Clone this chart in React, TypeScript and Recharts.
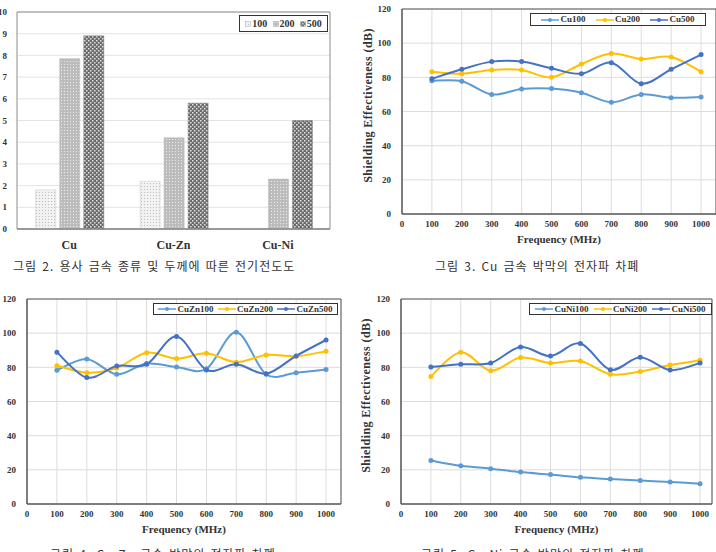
import { BarChart, Bar, LineChart, Line, XAxis, YAxis, CartesianGrid, Legend, ReferenceArea } from "recharts"

// 그림 2: conductivity by metal / thickness
const metals = ["Cu", "Cu-Zn", "Cu-Ni"]
const cond100 = [1.8, 2.2, 0.03]
const cond200 = [7.85, 4.2, 2.3]
const cond500 = [8.9, 5.8, 5.0]
const condTicks = [0, 1, 2, 3, 4, 5, 6, 7, 8, 9, 10]

// 그림 3-5: shielding effectiveness
const freqs = [100, 200, 300, 400, 500, 600, 700, 800, 900, 1000]
const cu100 = [78.0, 77.7, 70.0, 73.2, 73.4, 71.0, 65.4, 70.0, 68.1, 68.5]
const cu200 = [83.3, 82.1, 84.3, 84.3, 80.0, 87.8, 93.9, 90.7, 91.9, 83.3]
const cu500 = [79.2, 84.7, 89.2, 89.2, 85.3, 82.1, 88.6, 76.3, 84.7, 93.3]
const cuzn100 = [78.3, 84.9, 75.9, 82.2, 80.2, 79.1, 100.5, 75.9, 76.9, 78.7]
const cuzn200 = [81.0, 76.9, 79.6, 88.6, 85.1, 88.2, 83.0, 87.2, 86.5, 89.4]
const cuzn500 = [88.8, 74.0, 80.8, 81.8, 98.0, 78.5, 81.8, 76.3, 86.7, 96.0]
const cuni100 = [25.4, 22.4, 20.7, 18.7, 17.2, 15.6, 14.6, 13.7, 12.9, 11.9]
const cuni200 = [74.7, 88.8, 78.0, 85.7, 82.5, 83.7, 75.9, 77.5, 81.4, 84.1]
const cuni500 = [80.2, 81.8, 82.5, 91.9, 86.6, 94.0, 78.6, 85.9, 78.4, 82.5]
const seTicks = [0, 20, 40, 60, 80, 100, 120]
const freqTicks = [0, 100, 200, 300, 400, 500, 600, 700, 800, 900, 1000]

const lineColors = ["#5B9BD5", "#FFC000", "#4472C4"]

const serif = "'Liberation Serif', 'Times New Roman', serif"
const tickStyle = { fontFamily: serif, fontSize: 9, fontWeight: 700, fill: "#333" }
const titleStyle = { fontFamily: serif, fontSize: 11, fontWeight: 700, fill: "#333" }
const captionStyle = {
  position: "absolute" as const,
  fontFamily: "'Noto Sans CJK KR', sans-serif",
  fontSize: 12,
  letterSpacing: 1,
  wordSpacing: 1.5,
  color: "#333",
  whiteSpace: "nowrap" as const,
}

// excel-like smoothed line (catmull-rom)
function excelSmooth(context: any) {
  let pts: number[][] = []
  return {
    areaStart() {},
    areaEnd() {},
    lineStart() {
      pts = []
    },
    point(x: number, y: number) {
      pts.push([x, y])
    },
    lineEnd() {
      if (!pts.length) return
      context.moveTo(pts[0][0], pts[0][1])
      for (let i = 0; i < pts.length - 1; i++) {
        const p0 = pts[Math.max(i - 1, 0)]
        const p1 = pts[i]
        const p2 = pts[i + 1]
        const p3 = pts[Math.min(i + 2, pts.length - 1)]
        context.bezierCurveTo(
          p1[0] + (p2[0] - p0[0]) / 6,
          p1[1] + (p2[1] - p0[1]) / 6,
          p2[0] - (p3[0] - p1[0]) / 6,
          p2[1] - (p3[1] - p1[1]) / 6,
          p2[0],
          p2[1]
        )
      }
    },
  }
}

function LineLegend({ payload }: any) {
  return (
    <div
      style={{
        display: "flex",
        justifyContent: "space-evenly",
        alignItems: "center",
        height: "100%",
        border: "1px solid #333",
        boxSizing: "border-box",
        background: "#fff",
      }}
    >
      {(payload || []).map((p: any) => (
        <div key={p.value} style={{ display: "flex", alignItems: "center" }}>
          <svg width={18} height={6}>
            <line x1={0} y1={3} x2={18} y2={3} stroke={p.color} strokeWidth={1.5} />
            <circle cx={9} cy={3} r={2} fill={p.color} />
          </svg>
          <span style={{ fontFamily: serif, fontSize: 9, fontWeight: 700, color: "#333", marginLeft: 1, lineHeight: 1 }}>
            {p.value}
          </span>
        </div>
      ))}
    </div>
  )
}

function BarLegend({ payload }: any) {
  return (
    <div
      style={{
        display: "flex",
        justifyContent: "space-evenly",
        alignItems: "center",
        height: "100%",
        border: "1px solid #333",
        boxSizing: "border-box",
        background: "#fff",
      }}
    >
      {(payload || []).map((p: any) => (
        <div key={p.value} style={{ display: "flex", alignItems: "center" }}>
          <svg width={6} height={6}>
            <rect x={0.5} y={0.5} width={5} height={5} fill={p.color} stroke="#aaa" strokeWidth={0.5} />
          </svg>
          <span style={{ fontFamily: serif, fontSize: 10, fontWeight: 700, color: "#333", marginLeft: 1, lineHeight: 1 }}>
            {p.value}
          </span>
        </div>
      ))}
    </div>
  )
}

function ConductivityChart() {
  const data = metals.map((m, i) => ({ metal: m, v100: cond100[i], v200: cond200[i], v500: cond500[i] }))
  return (
    <div style={{ position: "absolute", left: 0, top: 0 }}>
      <BarChart
        width={358}
        height={276}
        data={data}
        margin={{ top: 12, right: 28, left: 0, bottom: 27 }}
        barCategoryGap="18%"
        barGap={4}
      >
        <defs>
          <pattern id="p100" width={3} height={3} patternUnits="userSpaceOnUse">
            <rect width={3} height={3} fill="#f2f2f2" />
            <rect width={1} height={1} fill="#bdbdbd" />
          </pattern>
          <pattern id="p200" width={3} height={3} patternUnits="userSpaceOnUse">
            <rect width={3} height={3} fill="#bcbcbc" />
            <rect x={1} y={1} width={1} height={1} fill="#ececec" />
          </pattern>
          <pattern id="p500" width={4} height={4} patternUnits="userSpaceOnUse">
            <rect width={4} height={4} fill="#6c6c6c" />
            <rect width={1.5} height={1.5} fill="#e2e2e2" />
            <rect x={2} y={2} width={1.5} height={1.5} fill="#e2e2e2" />
          </pattern>
        </defs>
        <CartesianGrid vertical={false} stroke="#e4e4e4" />
        <XAxis
          dataKey="metal"
          tickLine={false}
          axisLine={{ stroke: "#8c8c8c", strokeWidth: 1.5 }}
          tick={{ ...tickStyle, fontSize: 12 }}
          tickMargin={5}
          height={20}
        />
        <YAxis
          domain={[0, 10]}
          ticks={condTicks}
          interval={0}
          tickLine={false}
          axisLine={false}
          tick={tickStyle}
          tickMargin={4}
          width={17}
        />
        <ReferenceArea y1={0} y2={10} fill="none" stroke="#8c8c8c" />
        <Legend
          layout="horizontal"
          verticalAlign="middle"
          align="center"
          wrapperStyle={{ left: 239, top: 15, width: 89, height: 17 }}
          content={<BarLegend />}
        />
        <Bar dataKey="v100" name="100" fill="url(#p100)" stroke="#c8c8c8" strokeWidth={0.5} isAnimationActive={false} />
        <Bar dataKey="v200" name="200" fill="url(#p200)" stroke="#b0b0b0" strokeWidth={0.5} isAnimationActive={false} />
        <Bar dataKey="v500" name="500" fill="url(#p500)" stroke="#777" strokeWidth={0.5} isAnimationActive={false} />
      </BarChart>
    </div>
  )
}

function SEChart(props: any) {
  const { left, top, names, series, domainMax, yAxisWidth, marginTop, marginRight, marginBottom, yTitle, legendBox } = props
  const data = freqs.map((f, i) => ({ f, a: series[0][i], b: series[1][i], c: series[2][i] }))
  const keys = ["a", "b", "c"]
  return (
    <div style={{ position: "absolute", left, top }}>
      <LineChart
        width={358}
        height={276}
        data={data}
        margin={{ top: marginTop, right: marginRight, left: 0, bottom: marginBottom }}
      >
        <CartesianGrid stroke="#dcdcdc" />
        <XAxis
          dataKey="f"
          type="number"
          domain={[0, domainMax]}
          ticks={freqTicks}
          interval={0}
          tickLine={false}
          axisLine={{ stroke: "#595959" }}
          tick={tickStyle}
          tickMargin={1}
          height={30}
          label={{ value: "Frequency (MHz)", position: "insideBottom", offset: 1, style: titleStyle }}
        />
        <YAxis
          domain={[0, 120]}
          ticks={seTicks}
          interval={0}
          tickLine={false}
          axisLine={{ stroke: "#595959" }}
          tick={tickStyle}
          tickMargin={5}
          width={yAxisWidth}
          label={
            yTitle
              ? {
                  value: "Shielding Effectiveness (dB)",
                  angle: -90,
                  position: "insideLeft",
                  offset: yTitle,
                  dy: -6,
                  style: { ...titleStyle, fontSize: 12, letterSpacing: 0.4, textAnchor: "middle" },
                }
              : undefined
          }
        />
        <ReferenceArea y1={0} y2={120} fill="none" stroke="#595959" />
        <Legend
          layout="horizontal"
          verticalAlign="middle"
          align="center"
          wrapperStyle={legendBox}
          content={<LineLegend />}
        />
        {keys.map((k, i) => (
          <Line
            key={k}
            dataKey={k}
            name={names[i]}
            type={excelSmooth as any}
            stroke={lineColors[i]}
            strokeWidth={2}
            dot={{ r: 2.5, fill: lineColors[i], stroke: lineColors[i], strokeWidth: 0 }}
            isAnimationActive={false}
          />
        ))}
      </LineChart>
    </div>
  )
}

export default function App() {
  return (
    <div
      style={{
        position: "absolute",
        left: 0,
        top: 0,
        width: 716,
        height: 552,
        overflow: "hidden",
        background: "#fff",
      }}
    >
      <ConductivityChart />
      <SEChart
        left={358}
        top={0}
        names={["Cu100", "Cu200", "Cu500"]}
        series={[cu100, cu200, cu500]}
        domainMax={1050}
        yAxisWidth={44}
        marginTop={9}
        marginRight={0}
        marginBottom={32}
        yTitle={10}
        legendBox={{ left: 172, top: 13, width: 176, height: 13 }}
      />
      <SEChart
        left={0}
        top={276}
        names={["CuZn100", "CuZn200", "CuZn500"]}
        series={[cuzn100, cuzn200, cuzn500]}
        domainMax={1050}
        yAxisWidth={27}
        marginTop={23}
        marginRight={17}
        marginBottom={18}
        yTitle={0}
        legendBox={{ left: 153, top: 27, width: 185, height: 12 }}
      />
      <SEChart
        left={358}
        top={276}
        names={["CuNi100", "CuNi200", "CuNi500"]}
        series={[cuni100, cuni200, cuni500]}
        domainMax={1040}
        yAxisWidth={43}
        marginTop={23}
        marginRight={4}
        marginBottom={18}
        yTitle={8}
        legendBox={{ left: 171, top: 27, width: 183, height: 12 }}
      />
      <div style={{ ...captionStyle, left: 13, top: 257 }}>그림 2. 용사 금속 종류 및 두께에 따른 전기전도도</div>
      <div style={{ ...captionStyle, left: 435, top: 257 }}>그림 3. Cu 금속 박막의 전자파 차폐</div>
      <div style={{ ...captionStyle, left: 50, top: 545 }}>그림 4. Cu-Zn 금속 박막의 전자파 차폐</div>
      <div style={{ ...captionStyle, left: 421, top: 545 }}>그림 5. Cu-Ni 금속 박막의 전자파 차폐</div>
    </div>
  )
}
